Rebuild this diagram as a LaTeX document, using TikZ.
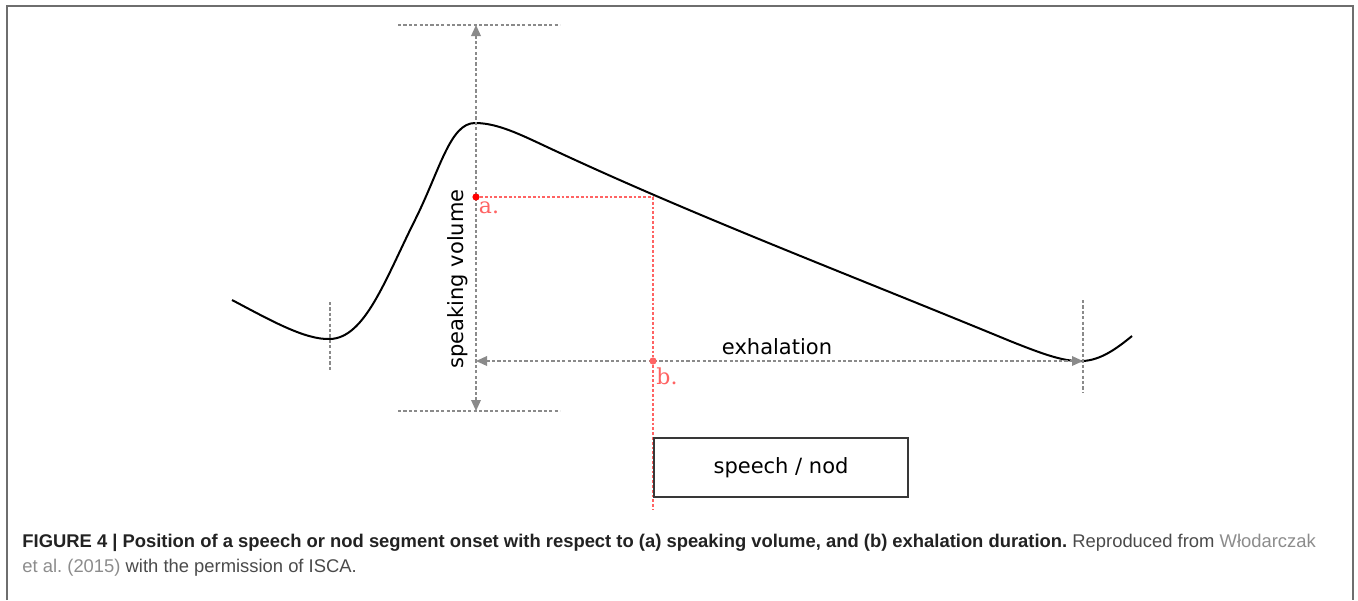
\documentclass[tikz,border=0pt]{standalone}
\usepackage{fontspec}
\setmainfont{Liberation Sans}
\newfontfamily\diagfont{DejaVu Sans}
\newfontfamily\markfont{DejaVu Serif}
\newfontfamily\capfont{Liberation Sans}
\usetikzlibrary{arrows.meta}
\definecolor{guidegray}{HTML}{8A8A8A}
\definecolor{onsetred}{HTML}{FF6363}
\definecolor{framegray}{HTML}{6E6E6E}
\definecolor{capdark}{HTML}{222222}
\definecolor{captext}{HTML}{4A4A4A}
\definecolor{caplink}{HTML}{8C8C8C}
\frenchspacing

\begin{document}
\begin{tikzpicture}[x=0.5pt, y=-0.5pt,
		guideline/.style={guidegray, line width=0.75pt, dash pattern=on 1.6pt off 1.1pt},
		guidearrow/.style={guideline, {Triangle[length=5.5pt, width=4.8pt]}-{Triangle[length=5.5pt, width=4.8pt]}},
		onsetline/.style={onsetred, line width=0.7pt, dash pattern=on 1.4pt off 1pt},
		textlabel/.style={font=\diagfont\fontsize{10.5}{12}\selectfont, inner sep=0pt},
		onsetlabel/.style={onsetred, font=\markfont\fontsize{11}{12}\selectfont, inner sep=0pt},
		captionline/.style={anchor=base west, inner sep=0pt, font=\capfont\fontsize{9.2}{10}\selectfont}]

	\useasboundingbox (0,0) rectangle (1358,600);

	% frame round the figure
	\draw[framegray, line width=1pt] (7,600) -- (7,6) -- (1353,6) -- (1353,600);

	% breathing curve
	\draw[line width=1pt, black] (232,300) .. controls (270,320) and (305,340) .. (330,339)
		.. controls (365,338) and (385,280) .. (415,220)
		.. controls (440,170) and (450,123) .. (475,123)
		.. controls (500,123) and (525,137) .. (560,153)
		.. controls (700,218) and (850,275) .. (1010,341)
		.. controls (1045,355) and (1065,362) .. (1083,361)
		.. controls (1100,360) and (1115,350) .. (1132,336);

	% guide points
	\coordinate (vtop) at (476,25);
	\coordinate (vbot) at (476,411);
	\coordinate (exhstart) at (476,361);
	\coordinate (exhend) at (1083,361);

	% speaking volume
	\draw[guideline] (398,25) -- (560,25);
	\draw[guideline] (398,411) -- (560,411);
	\draw[guidearrow] (vbot) -- (vtop);
	\node[textlabel, rotate=90] (volume) at (458,279) {speaking volume};

	% exhalation
	\draw[guideline] (330,302) -- (330,372);
	\draw[guideline] (1083,300) -- (1083,393);
	\draw[guidearrow] (exhstart) -- (exhend);
	\node[textlabel] (exhalation) at (777,347) {exhalation};

	% onset marks
	\node[circle, fill=red, inner sep=0pt, minimum size=3.6pt] (pa) at (476,197) {};
	\node[circle, fill=onsetred, inner sep=0pt, minimum size=3.6pt] (pb) at (653,361) {};
	\coordinate (onset) at (653,197);
	\coordinate (onsetend) at (653,510);
	\draw[onsetline] (pa) -- (onset);
	\draw[onsetline] (onset) -- (pb) -- (onsetend);
	\node[onsetlabel] (alabel) at (489,208) {a.};
	\node[onsetlabel] (blabel) at (667,376) {b.};

	% segment box
	\node[draw=capdark!90, line width=1pt, minimum width=127pt, minimum height=29.5pt, inner sep=0pt,
		textlabel, anchor=north west] (segment) at (653,437) {speech / nod};

	% caption
	\node[captionline] (cap1) at (22,547)
		{\textcolor{capdark}{\bfseries FIGURE 4 | Position of a speech or nod segment onset with respect to (a) speaking volume, and (b) exhalation duration.} \textcolor{captext}{Reproduced from} \textcolor{caplink}{Włodarczak}};
	\node[captionline] (cap2) at (22,572)
		{\textcolor{caplink}{et al. (2015)} \textcolor{captext}{with the permission of ISCA.}};

\end{tikzpicture}
\end{document}
